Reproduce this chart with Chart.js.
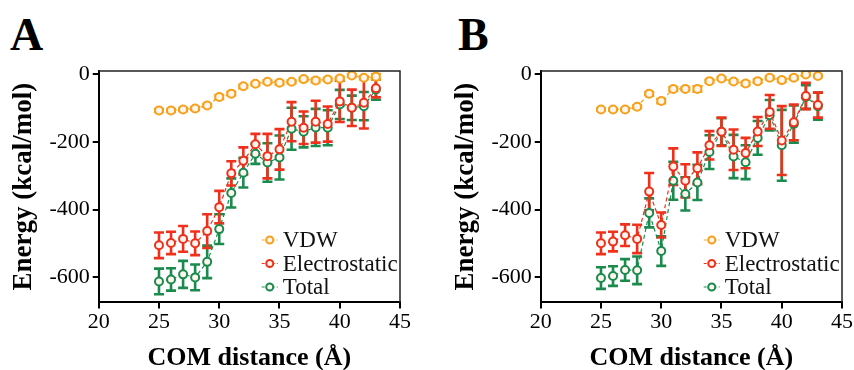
<!DOCTYPE html>
<html>
<head>
<meta charset="utf-8">
<script src="https://cdn.jsdelivr.net/npm/chart.js@4.4.1/dist/chart.umd.min.js"></script>
<style>
  body { margin: 0; background: #fff; width: 854px; height: 370px; overflow: hidden; position: relative; }
  canvas { position: absolute; top: 0; }
  #cA { left: 0; }
  #cB { left: 442px; }
  .panel { position: absolute; top: 8px; font: bold 46px 'Liberation Serif', 'Times New Roman', Times, 'DejaVu Serif', serif; }
</style>
</head>
<body>
<div class="panel" style="left:10px">A</div>
<div class="panel" style="left:458px">B</div>
<canvas id="cA" width="412" height="374"></canvas>
<canvas id="cB" width="412" height="374"></canvas>
<script>
const distance = [25, 26, 27, 28, 29, 30, 31, 32, 33, 34, 35, 36, 37, 38, 39, 40, 41, 42, 43]
const xTicks = [20, 25, 30, 35, 40, 45]
const yTicks = [0, -200, -400, -600]

// panel A
const vdwA = [-107, -107, -104, -101, -92, -67, -57, -35, -28, -22, -25, -22, -14, -18, -15, -12, -3, -10, -7]
const vdwErrA = [4, 4, 4, 4, 4, 6, 5, 4, 4, 4, 5, 4, 4, 5, 4, 4, 3, 4, 8]
const elecA = [-506, -499, -487, -500, -464, -393, -293, -256, -207, -242, -222, -140, -158, -140, -147, -80, -99, -84, -41]
const elecErrA = [38, 33, 38, 35, 50, 48, 36, 40, 31, 66, 60, 58, 48, 62, 52, 61, 54, 76, 27]
const totalA = [-613, -607, -592, -601, -555, -458, -351, -291, -235, -261, -246, -161, -170, -157, -158, -89, -99, -94, -45]
const totalErrA = [38, 33, 40, 38, 48, 44, 43, 44, 30, 57, 65, 62, 46, 55, 52, 43, 36, 42, 30]

// panel B
const vdwB = [-104, -104, -104, -96, -57, -79, -43, -43, -43, -20, -12, -21, -27, -20, -10, -17, -10, 0, -5]
const vdwErrB = [3, 3, 3, 4, 4, 6, 5, 4, 8, 4, 3, 4, 5, 5, 4, 5, 4, 3, 3]
const elecB = [-500, -495, -476, -487, -347, -446, -273, -315, -278, -210, -170, -223, -233, -169, -111, -196, -142, -64, -91]
const elecErrB = [32, 29, 32, 42, 55, 37, 54, 49, 47, 42, 42, 60, 45, 43, 50, 102, 53, 39, 37]
const totalB = [-603, -597, -579, -580, -410, -523, -315, -354, -320, -230, -170, -243, -260, -188, -121, -210, -147, -67, -94]
const totalErrB = [32, 29, 32, 41, 43, 44, 56, 49, 52, 50, 40, 64, 50, 50, 45, 105, 55, 35, 40]

const colors = { vdw: '#f7a11a', elec: '#f1301b', total: '#1b8a4d' }
const serif = "'Liberation Serif', 'Times New Roman', Times, 'DejaVu Serif', serif"

function series(label, values, errs, color) {
  return {
    label: label,
    data: values.map((v, i) => ({ x: distance[i], y: v })),
    errors: errs,
    borderColor: color,
    backgroundColor: color,
    borderWidth: 1.2,
    borderDash: [4, 3],
    pointRadius: 4,
    pointBorderWidth: 2,
    pointBackgroundColor: '#fff5ee',
    pointBorderColor: color,
    tension: 0
  }
}

// error bars + frame + legend
const extras = {
  id: 'extras',
  beforeDatasetsDraw(chart) {
    const ctx = chart.ctx
    const y = chart.scales.y
    for (let d = chart.data.datasets.length - 1; d >= 0; d--) {
      const ds = chart.data.datasets[d]
      const meta = chart.getDatasetMeta(d)
      ctx.save()
      ctx.strokeStyle = ds.borderColor
      ctx.lineWidth = 2.6
      ds.data.forEach((p, i) => {
        const px = meta.data[i].x
        const top = y.getPixelForValue(p.y + ds.errors[i])
        const bot = y.getPixelForValue(p.y - ds.errors[i])
        ctx.beginPath()
        ctx.moveTo(px, top); ctx.lineTo(px, bot)
        ctx.moveTo(px - 5, top); ctx.lineTo(px + 5, top)
        ctx.moveTo(px - 5, bot); ctx.lineTo(px + 5, bot)
        ctx.stroke()
      })
      ctx.restore()
    }
  },
  afterDraw(chart) {
    const ctx = chart.ctx
    const a = chart.chartArea
    ctx.save()
    ctx.strokeStyle = '#222'
    ctx.lineWidth = 1.5
    ctx.beginPath()
    ctx.moveTo(a.left, a.top); ctx.lineTo(a.right, a.top); ctx.lineTo(a.right, a.bottom)
    ctx.stroke()

    ctx.font = '23px ' + serif
    ctx.textBaseline = 'middle'
    chart.data.datasets.forEach((ds, i) => {
      const cy = a.top + 169 + i * 23.5
      const cx = a.left + 171
      ctx.strokeStyle = ds.borderColor
      ctx.lineWidth = 1.2
      ctx.setLineDash([3, 2])
      ctx.beginPath()
      ctx.moveTo(cx - 8, cy); ctx.lineTo(cx + 8, cy)
      ctx.stroke()
      ctx.setLineDash([])
      ctx.lineWidth = 2
      ctx.fillStyle = '#fff5ee'
      ctx.beginPath()
      ctx.arc(cx, cy, 3.5, 0, Math.PI * 2)
      ctx.fill(); ctx.stroke()
      ctx.fillStyle = '#111'
      ctx.fillText(ds.label, cx + 13, cy + 1)
    })
    ctx.restore()
  }
}

function makeChart(id, vdw, vdwErr, elec, elecErr, total, totalErr) {
  return new Chart(document.getElementById(id), {
    type: 'line',
    data: {
      datasets: [
        series('VDW', vdw, vdwErr, colors.vdw),
        series('Electrostatic', elec, elecErr, colors.elec),
        series('Total', total, totalErr, colors.total)
      ]
    },
    options: {
      responsive: false,
      animation: false,
      layout: { padding: { left: 8, right: 11, top: 71, bottom: 0 } },
      plugins: { legend: { display: false }, tooltip: { enabled: false } },
      scales: {
        x: {
          type: 'linear',
          min: 20,
          max: 45,
          afterBuildTicks: s => { s.ticks = xTicks.map(v => ({ value: v })) },
          ticks: { color: '#000', font: { family: serif, size: 22 }, padding: 1, maxRotation: 0 },
          grid: { drawOnChartArea: false, color: '#000', lineWidth: 2, tickLength: 6 },
          border: { color: '#000', width: 2 },
          title: { display: true, text: 'COM distance (Å)', color: '#000', font: { family: serif, size: 26, weight: 'bold' }, padding: { top: 6, bottom: 0 } }
        },
        y: {
          min: -675,
          max: 10,
          afterBuildTicks: s => { s.ticks = yTicks.map(v => ({ value: v })) },
          ticks: { color: '#000', font: { family: serif, size: 22 }, padding: 3 },
          grid: { drawOnChartArea: false, color: '#000', lineWidth: 2, tickLength: 6 },
          border: { color: '#000', width: 2 },
          title: { display: true, text: 'Energy (kcal/mol)', color: '#000', font: { family: serif, size: 27, weight: 'bold' }, padding: { top: 0, bottom: 6 } }
        }
      }
    },
    plugins: [extras]
  })
}

makeChart('cA', vdwA, vdwErrA, elecA, elecErrA, totalA, totalErrA)
makeChart('cB', vdwB, vdwErrB, elecB, elecErrB, totalB, totalErrB)
</script>
</body>
</html>
